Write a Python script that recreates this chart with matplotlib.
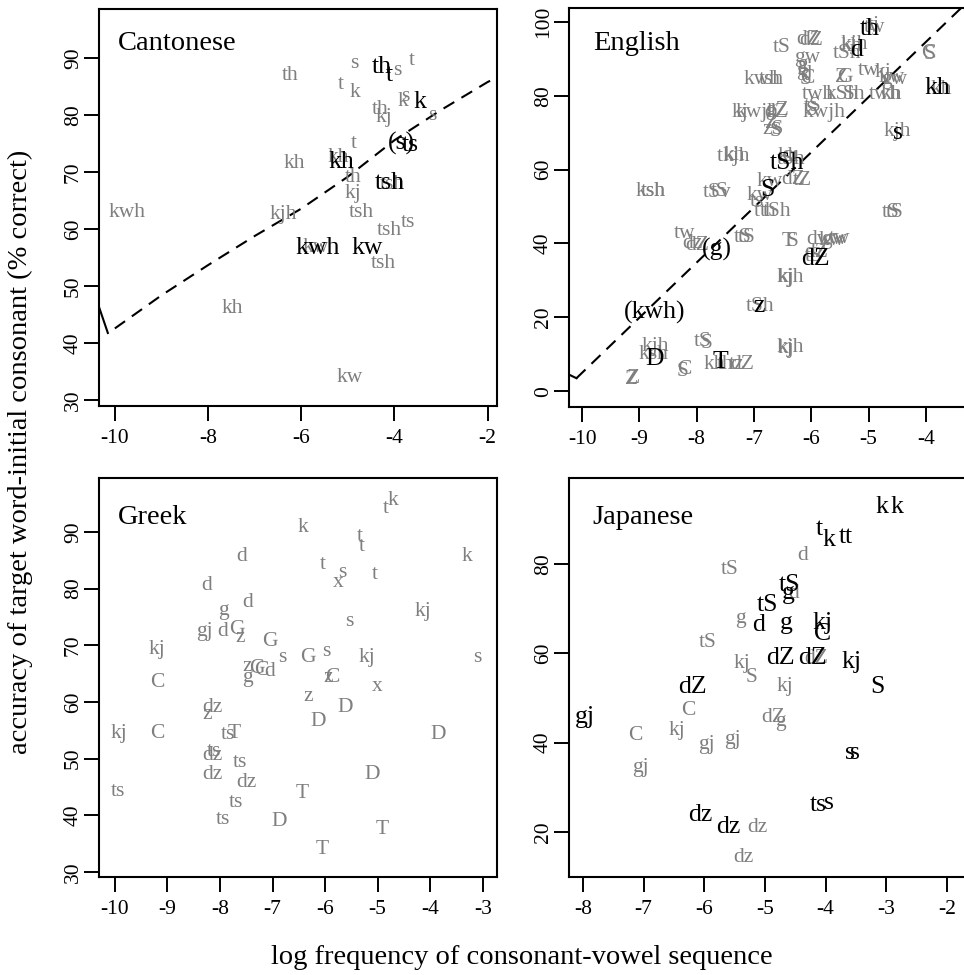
import matplotlib
matplotlib.use("Agg")
import matplotlib.pyplot as plt

plt.rcParams['font.family'] = ['Liberation Serif', 'DejaVu Serif']

GRAY = '#7f7f7f'

# ---------------- Cantonese ----------------
can_gray_labels = ["th", "s", "t", "s", "t", "k", "k", "s", "th", "kj", "s", "t", "kh", "kh",
                   "th", "kj", "kjh", "kwh", "tsh", "tsh", "ts", "tsh", "kh", "kw", "tsh", "kw"]
can_gray_x = [-6.24, -4.87, -3.63, -3.93, -5.15, -4.85, -3.82, -3.76, -4.31, -4.23, -3.18, -4.87, -6.14, -5.2,
              -4.89, -4.89, -6.39, -9.74, -4.72, -4.1, -3.71, -4.23, -7.47, -4.96, -4.05, -5.7]
can_gray_y = [87.0, 89.1, 89.6, 87.9, 85.3, 83.9, 82.3, 83.3, 80.9, 79.5, 80.0, 75.1, 71.6, 72.6,
              69.0, 66.3, 62.5, 63.0, 63.0, 59.8, 61.2, 53.9, 46.1, 34.0, 67.9, 56.7]
can_black_labels = ["th", "t", "k", "(s)", "ts", "kh", "tsh", "kwh", "kw"]
can_black_x = [-4.27, -4.1, -3.45, -3.86, -3.67, -5.13, -4.1, -5.64, -4.59]
can_black_y = [88.4, 87.0, 82.3, 75.1, 74.7, 71.8, 68.1, 56.7, 56.7]
can_curve_x = [-10.0, -9.0, -8.0, -7.0, -6.0, -5.0, -4.0, -3.0, -2.0, -1.8]
can_curve_y = [42.6, 48.4, 53.7, 58.8, 63.6, 69.2, 75.6, 80.9, 85.8, 86.6]
can_edge_x = [-10.45, -10.15]
can_edge_y = [49.0, 41.8]

# ---------------- English ----------------
eng_gray_labels = ["tS", "dZ", "dZ", "gw", "g", "gj", "kjh", "kh", "tSh", "tw", "tj", "S", "C", "kh",
                   "kwh", "tsh", "S", "C", "Z", "G", "tw", "kj", "kw", "gw",
                   "twh", "kSh", "Sh", "twh", "kh",
                   "kj", "kwjh", "dZ", "gZ", "kwjh", "tS", "S",
                   "zS", "S", "Z", "kjh",
                   "t", "kjh", "kh", "tSh", "kh",
                   "kw", "dZ", "tZ", "tsh", "ksh", "tSv", "tS", "kw", "ts",
                   "t", "tSh", "th", "tS", "tS",
                   "tw", "dz", "dZ", "tS", "tS", "T", "S",
                   "dw", "gw", "tw", "kw", "tS", "dZ", "kjh", "kj", "tSh",
                   "kjh", "ksh", "tS", "S", "S", "C",
                   "kh", "th", "tz", "dZ", "Z", "Z", "kjh", "kj"]
eng_gray_x = [-6.51, -6.06, -6.0, -6.07, -6.15, -6.12, -5.24, -5.3, -5.38, -4.89, -4.9, -3.93, -3.95, -3.72,
              -6.85, -6.7, -6.1, -6.07, -5.47, -5.42, -5.0, -4.75, -4.6, -4.55,
              -5.88, -5.45, -5.25, -4.72, -4.6,
              -7.25, -6.95, -6.62, -6.6, -5.78, -5.97, -6.0,
              -6.67, -6.62, -6.7, -4.49,
              -7.6, -7.3, -7.35, -6.35, -6.4,
              -6.72, -6.32, -6.15, -8.76, -8.8, -7.64, -7.6, -6.9, -6.95,
              -6.95, -6.6, -6.75, -4.62, -4.55,
              -8.22, -8.08, -8.0, -7.2, -7.12, -6.4, -6.33,
              -5.85, -5.6, -5.5, -5.65, -5.95, -5.92, -6.37, -6.45, -6.9,
              -8.73, -8.75, -7.89, -7.82, -8.24, -8.22,
              -7.7, -7.5, -7.3, -7.2, -9.13, -9.1, -6.37, -6.45]
eng_gray_y = [93.0, 95.4, 95.0, 90.3, 88.5, 87.0, 93.8, 93.5, 91.6, 98.6, 99.0, 91.1, 91.5, 81.6,
              84.3, 84.3, 84.3, 84.8, 85.1, 85.1, 87.0, 86.2, 84.9, 84.5,
              80.3, 80.3, 80.3, 80.3, 80.3,
              75.4, 75.4, 75.4, 76.0, 75.4, 77.0, 76.0,
              70.8, 70.3, 72.5, 70.3,
              63.5, 63.5, 63.8, 62.8, 63.5,
              56.8, 57.3, 57.0, 54.1, 54.1, 53.8, 54.1, 53.0, 51.5,
              48.6, 48.6, 48.6, 48.4, 48.4,
              42.6, 40.0, 39.5, 41.6, 41.6, 40.5, 40.5,
              41.0, 41.0, 41.3, 40.8, 36.5, 37.5, 30.8, 30.8, 23.0,
              12.2, 10.0, 13.5, 13.0, 5.4, 5.8,
              7.3, 7.3, 7.3, 7.3, 3.2, 3.5, 11.9, 11.5]
eng_black_labels = ["th", "d", "kh", "s", "tSh", "S", "(g)", "dZ", "z", "(kwh)", "D", "T"]
eng_black_x = [-4.98, -5.2, -3.79, -4.49, -6.42, -6.77, -7.64, -5.93, -6.92, -8.73, -8.73, -7.59]
eng_black_y = [98.2, 92.4, 82.0, 70.0, 61.9, 54.6, 38.4, 35.7, 23.0, 21.4, 8.6, 7.8]
eng_line_x = [-10.1, -3.0]
eng_line_y = [3.5, 109.5]
eng_edge_x = [-10.3, -10.1]
eng_edge_y = [5.0, 3.5]

# ---------------- Greek ----------------
grk_labels = ["k", "t", "k", "t", "t", "d", "k", "t", "s", "x", "t", "d", "g", "d", "kj", "s",
              "gj", "d", "G", "z", "G", "kj", "s", "G", "s", "kj", "s",
              "z", "G", "C", "d", "g", "C", "z", "C", "x", "z", "D", "dz", "z", "D",
              "kj", "C", "ts", "T", "D", "dz", "ts", "ts", "D", "dz", "dz", "ts", "T",
              "ts", "ts", "D", "T", "T"]
grk_x = [-6.43, -4.85, -4.71, -5.34, -5.3, -7.59, -3.31, -6.05, -5.68, -5.76, -5.06, -8.25, -7.93, -7.47, -4.14, -5.53,
         -8.29, -7.95, -7.68, -7.62, -7.05, -9.2, -6.81, -6.33, -5.97, -5.21, -3.1,
         -7.49, -7.3, -7.21, -7.05, -7.47, -9.2, -5.95, -5.86, -5.0, -6.33, -5.61, -8.14, -8.25, -6.14,
         -9.92, -9.2, -7.85, -7.72, -3.84, -8.14, -8.12, -7.62, -5.11, -8.14, -7.49, -9.94, -6.44,
         -7.7, -7.95, -6.88, -4.92, -6.05]
grk_y = [90.7, 94.2, 95.6, 89.1, 87.4, 85.6, 85.6, 84.2, 82.8, 81.0, 82.4, 80.5, 76.2, 77.5, 75.9, 74.1,
         72.4, 72.4, 72.7, 71.3, 70.6, 69.2, 67.8, 67.8, 68.8, 67.8, 67.8,
         66.2, 65.8, 65.5, 65.3, 64.3, 63.5, 64.3, 64.3, 62.7, 60.9, 59.0, 59.0, 57.7, 56.5,
         54.5, 54.5, 54.2, 54.5, 54.2, 50.5, 51.2, 49.3, 47.1, 47.1, 45.7, 44.1, 43.8,
         42.2, 39.2, 38.9, 37.4, 33.9]

# ---------------- Japanese ----------------
jpn_gray_labels = ["d", "tS", "d", "g", "tS", "kj", "dZ", "S", "kj", "C", "dZ", "g", "C", "kj",
                   "gj", "gj", "gj", "dz", "dz"]
jpn_gray_x = [-4.38, -5.58, -4.52, -5.41, -5.94, -5.38, -4.15, -5.22, -4.67, -6.27, -4.87, -4.75, -7.13, -6.45,
              -5.54, -5.96, -7.06, -5.12, -5.36]
jpn_gray_y = [82.0, 78.9, 73.5, 67.9, 62.5, 57.8, 58.9, 54.7, 52.5, 47.3, 45.6, 44.7, 41.7, 42.8,
              40.6, 39.5, 34.4, 20.9, 14.2]
jpn_black_labels = ["k", "k", "t", "k", "t", "t", "tS", "g", "tS", "d", "g", "kj", "C", "dZ", "dZ", "kj",
                    "dZ", "S", "gj", "s", "s", "ts", "s", "dz", "dz"]
jpn_black_x = [-3.07, -2.82, -4.1, -3.95, -3.72, -3.62, -4.59, -4.62, -4.95, -5.1, -4.64, -4.05, -4.05, -4.75, -4.21, -3.57,
               -6.19, -3.14, -7.97, -3.6, -3.52, -4.12, -3.95, -6.07, -5.61]
jpn_black_y = [92.8, 92.8, 87.9, 85.4, 86.1, 86.1, 75.3, 73.5, 70.8, 66.3, 66.7, 66.7, 64.3, 58.9, 58.9, 58.0,
               52.5, 52.5, 45.8, 37.7, 37.7, 26.1, 26.5, 23.8, 21.2]

# ---------------- figure ----------------
W, H = 964, 975
fig = plt.figure(figsize=(W / 100, H / 100), dpi=100)

def box(l, t, r, b):
    return [l / W, 1 - b / H, (r - l) / W, (b - t) / H]

ax_can = fig.add_axes(box(99, 9, 497, 406))
ax_eng = fig.add_axes(box(569, 8, 967, 407))
ax_grk = fig.add_axes(box(99, 478, 497, 877))
ax_jpn = fig.add_axes(box(569, 478, 967, 877))

GS = 15.5
BS = 18.5

def style(ax, xlim, ylim, xticks, yticks):
    ax.set_xlim(*xlim)
    ax.set_ylim(*ylim)
    ax.set_xticks(xticks)
    ax.set_xticklabels([str(v) for v in xticks])
    ax.set_yticks(yticks)
    ax.set_yticklabels([str(v) for v in yticks])
    for s in ax.spines.values():
        s.set_linewidth(1.5)
    ax.tick_params(axis='both', direction='out', length=10.5, width=1.4, labelsize=15.5)
    ax.tick_params(axis='x', pad=6)
    ax.tick_params(axis='y', pad=1, labelrotation=90)
    for lab in ax.get_yticklabels():
        lab.set_va('center')

def put(ax, labels, xs, ys, color, size):
    for lab, x, y in zip(labels, xs, ys):
        ax.text(x, y, lab, color=color, fontsize=size, ha='center', va='center')

dash = (0, (6, 4))

# Cantonese
style(ax_can, (-10.34, -1.8), (29, 98.6), [-10, -8, -6, -4, -2], [30, 40, 50, 60, 70, 80, 90])
put(ax_can, can_gray_labels, can_gray_x, can_gray_y, GRAY, GS)
put(ax_can, can_black_labels, can_black_x, can_black_y, 'black', BS)
ax_can.plot(can_curve_x, can_curve_y, color='black', lw=1.5, ls=dash)
ax_can.plot(can_edge_x, can_edge_y, color='black', lw=1.5)
ax_can.text(0.048, 0.914, "Cantonese", transform=ax_can.transAxes, fontsize=20.5, ha='left', va='center')

# English
style(ax_eng, (-10.23, -3.28), (-4.3, 103.8), [-10, -9, -8, -7, -6, -5, -4], [0, 20, 40, 60, 80, 100])
put(ax_eng, eng_gray_labels, eng_gray_x, eng_gray_y, GRAY, GS)
put(ax_eng, eng_black_labels, eng_black_x, eng_black_y, 'black', BS)
ax_eng.plot(eng_line_x, eng_line_y, color='black', lw=1.5, ls=dash)
ax_eng.plot(eng_edge_x, eng_edge_y, color='black', lw=1.5)
ax_eng.text(0.06, 0.91, "English", transform=ax_eng.transAxes, fontsize=20.5, ha='left', va='center')

# Greek
style(ax_grk, (-10.3, -2.73), (29.1, 99.5), [-10, -9, -8, -7, -6, -5, -4, -3], [30, 40, 50, 60, 70, 80, 90])
put(ax_grk, grk_labels, grk_x, grk_y, GRAY, GS)
ax_grk.text(0.048, 0.90, "Greek", transform=ax_grk.transAxes, fontsize=20.5, ha='left', va='center')

# Japanese
style(ax_jpn, (-8.23, -1.67), (9.9, 99.3), [-8, -7, -6, -5, -4, -3, -2], [20, 40, 60, 80])
put(ax_jpn, jpn_gray_labels, jpn_gray_x, jpn_gray_y, GRAY, GS)
put(ax_jpn, jpn_black_labels, jpn_black_x, jpn_black_y, 'black', BS)
ax_jpn.text(0.058, 0.90, "Japanese", transform=ax_jpn.transAxes, fontsize=20.5, ha='left', va='center')

fig.text(522 / W, 1 - 958 / H, "log frequency of consonant-vowel sequence", fontsize=20.5,
         ha='center', va='center')
fig.text(20 / W, 1 - 452 / H, "accuracy of target word-initial consonant (% correct)", fontsize=20.5,
         ha='center', va='center', rotation=90)

fig.savefig("out.png", dpi=100)
